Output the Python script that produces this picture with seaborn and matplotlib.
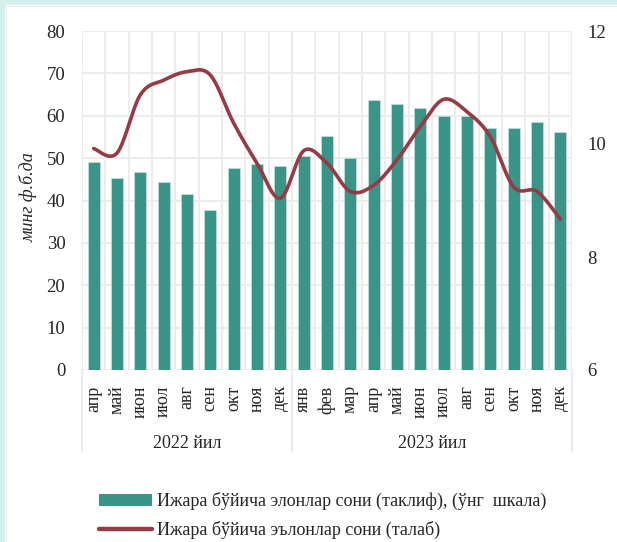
import numpy as np
import pandas as pd
import matplotlib
matplotlib.use('Agg')
import matplotlib.pyplot as plt
import matplotlib.transforms as mtransforms
from matplotlib.patches import Rectangle, Patch
from matplotlib.lines import Line2D
import seaborn as sns

# Маълумотлар (расмдан ўқилган)
months = ['апр', 'май', 'июн', 'июл', 'авг', 'сен', 'окт', 'ноя', 'дек',
          'янв', 'фев', 'мар', 'апр', 'май', 'июн', 'июл', 'авг', 'сен', 'окт', 'ноя', 'дек']
years = ['2022 йил', '2023 йил']
year_sizes = [9, 12]
offers = [49.0, 45.3, 46.7, 44.4, 41.6, 37.8, 47.7, 48.6, 48.2,
          50.5, 55.2, 50.0, 63.7, 62.7, 61.8, 59.9, 59.9, 57.1, 57.1, 58.5, 56.2]
demand = [9.92, 9.84, 10.87, 11.13, 11.28, 11.22, 10.37, 9.66, 9.04,
          9.88, 9.66, 9.16, 9.27, 9.72, 10.31, 10.79, 10.57, 10.13, 9.24, 9.16, 8.67]

label_bar = 'Ижара бўйича элонлар сони (таклиф), (ўнг  шкала)'
label_line = 'Ижара бўйича эълонлар сони (талаб)'

BAR = '#3a9488'
LINE = '#953b44'
GRID = '#ececec'
BAND = '#d5efec'


def smooth(y, steps=20):
    # Excel-ga o'xshash silliq chiziq (Bezier, Catmull-Rom)
    y = np.asarray(y, float)
    x = np.arange(len(y), dtype=float)
    px = np.concatenate([[x[0]], x, [x[-1]]])
    py = np.concatenate([[y[0]], y, [y[-1]]])
    xs, ys = [], []
    t = np.linspace(0, 1, steps)
    for i in range(len(y) - 1):
        p0 = np.array([px[i + 1], py[i + 1]])
        p3 = np.array([px[i + 2], py[i + 2]])
        c1 = p0 + (np.array([px[i + 2], py[i + 2]]) - np.array([px[i], py[i]])) / 6
        c2 = p3 - (np.array([px[i + 3], py[i + 3]]) - np.array([px[i + 1], py[i + 1]])) / 6
        b = ((1 - t) ** 3)[:, None] * p0 + (3 * (1 - t) ** 2 * t)[:, None] * c1 \
            + (3 * (1 - t) * t ** 2)[:, None] * c2 + (t ** 3)[:, None] * p3
        xs.extend(b[:, 0])
        ys.extend(b[:, 1])
    return np.array(xs), np.array(ys)


sns.set_theme(style='white')
plt.rcParams['font.family'] = ['Liberation Serif', 'DejaVu Serif']

fig = plt.figure(figsize=(6.17, 5.42), dpi=100, facecolor='white')
W, H = 617, 542
ax = fig.add_axes([82 / W, (H - 370) / H, (572 - 82) / W, (370 - 31) / H])

df = pd.DataFrame({'idx': np.arange(len(months)), 'offers': offers})
sns.barplot(data=df, x='idx', y='offers', ax=ax, color=BAR, width=0.52,
            saturation=1, edgecolor='#cfe6e2', linewidth=0.4, zorder=3)

ax.set_xlim(-0.5, len(months) - 0.5)
ax.set_ylim(0, 80)
ax.set_yticks(range(0, 81, 10))
ax.set_xticks(np.arange(len(months)))
ax.set_xticklabels(months, rotation=90, fontsize=13, va='top')
ax.set_xticks(np.arange(len(months) + 1) - 0.5, minor=True)
ax.tick_params(axis='x', which='both', length=0, pad=11)
ax.tick_params(axis='y', length=0, pad=12, labelsize=13.5)
ax.set_xlabel('')
ax.set_ylabel('минг ф.б.да', fontsize=13, style='italic')
ax.yaxis.set_label_coords(-0.09, 0.51)
ax.grid(False)
ax.grid(True, axis='y', which='major', color=GRID, linewidth=1.5, zorder=0)
ax.grid(True, axis='x', which='minor', color=GRID, linewidth=1.5, zorder=0)
ax.set_axisbelow(True)
for s in ax.spines.values():
    s.set_visible(False)

# Йил белгилари
trans = mtransforms.blended_transform_factory(ax.transData, ax.transAxes)
edges = np.concatenate([[0], np.cumsum(year_sizes)]) - 0.5
low = -(452 - 370) / (370 - 31)
for e in edges:
    ax.plot([e, e], [0, low], transform=trans, color=GRID, lw=1.5, clip_on=False)
for i, yr in enumerate(years):
    ax.text((edges[i] + edges[i + 1]) / 2, -(443 - 370) / (370 - 31), yr,
            transform=trans, ha='center', va='center', fontsize=13)

# Ўнг шкала
ax2 = ax.twinx()
sx, sy = smooth(demand)
sns.lineplot(x=sx, y=sy, ax=ax2, color=LINE, linewidth=2.6, sort=False,
             estimator=None, zorder=4)
ax2.set_xlim(ax.get_xlim())
ax2.set_ylim(6, 12)
ax2.set_yticks([6, 8, 10, 12])
ax2.tick_params(axis='y', length=0, pad=11, labelsize=13.5)
ax2.grid(False)
ax2.set_ylabel('')
for s in ax2.spines.values():
    s.set_visible(False)

# Легенда
handles = [Patch(facecolor=BAR, edgecolor='none'),
           Line2D([0], [0], color=LINE, linewidth=3.2)]
fig.legend(handles, [label_bar, label_line], loc='upper left',
           bbox_to_anchor=(83 / W, 1 - 476 / H), frameon=False, fontsize=13,
           handlelength=2.9, handleheight=0.65, handletextpad=0.3, labelspacing=0.6)

# Рамка
fig.patches.append(Rectangle((0, 1 - 5 / H), 1, 5 / H, transform=fig.transFigure,
                             facecolor=BAND, edgecolor='none', zorder=0))
fig.patches.append(Rectangle((0, 0), 5 / W, 1, transform=fig.transFigure,
                             facecolor=BAND, edgecolor='none', zorder=0))
fig.lines.append(Line2D([5 / W, 1], [1 - 6 / H, 1 - 6 / H], transform=fig.transFigure,
                        color='#eeeeee', lw=1))
fig.lines.append(Line2D([6 / W, 6 / W], [0, 1 - 6 / H], transform=fig.transFigure,
                        color='#eeeeee', lw=1))

fig.savefig('out.png', dpi=100, facecolor='white')
